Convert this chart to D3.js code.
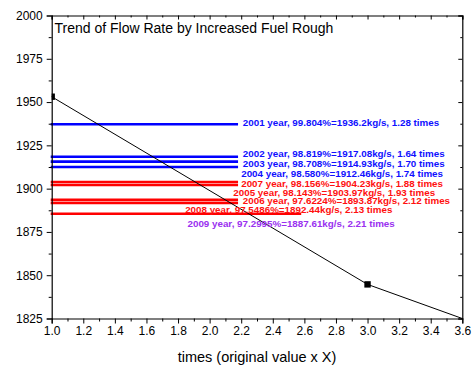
<!DOCTYPE html>
<html><head><meta charset="utf-8">
<script src="https://cdn.jsdelivr.net/npm/d3@7"></script>
<style>
html,body{margin:0;padding:0;background:#fff;}
svg{display:block;font-family:Arial,"Liberation Sans",sans-serif;}
</style></head>
<body><svg id="chart" width="474" height="365"></svg>
<script>
// ---- data ----
const trendX = [1.0, 3.0, 3.6];
const trendY = [1953.1, 1844.7, 1825.0];

const years = ["2001","2002","2003","2004","2007","2005","2006","2008","2009"];
const levels = [1937.2, 1918.4, 1915.6, 1912.5, 1903.8, 1902.1, 1893.5, 1891.7, 1885.5];
const lineColors = ["#0000ff","#0000ff","#0000ff","#0000ff","#ff0000","#ff0000","#ff0000","#ff0000","#ff0000"];
const lineEnds = [2.18, 2.18, 2.18, 2.18, 2.18, 2.18, 2.18, 2.18, 2.58];

const labels = [
  "2001 year, 99.804%=1936.2kg/s, 1.28 times",
  "2002 year, 98.819%=1917.08kg/s, 1.64 times",
  "2003 year, 98.708%=1914.93kg/s, 1.70 times",
  "2004 year, 98.580%=1912.46kg/s, 1.74 times",
  "2007 year, 98.156%=1904.23kg/s, 1.88 times",
  "2005 year, 98.143%=1903.97kg/s, 1.93 times",
  "2006 year, 97.6224%=1893.87kg/s, 2.12 times",
  "2008 year, 97.5486%=1892.44kg/s, 2.13 times",
  "2009 year, 97.2995%=1887.61kg/s, 2.21 times"
];
const labelColors = ["#1010ff","#1010ff","#1010ff","#1010ff","#ff1010","#ff1010","#ff1010","#ff1010","#9a30f0"];
// label anchor (in data units)
const labelAtX = [2.21, 2.21, 2.21, 2.20, 2.20, 2.15, 2.21, 1.845, 1.86];
const labelAtY = [1938.1, 1920.4, 1914.6, 1908.5, 1903.1, 1897.7, 1893.0, 1888.1, 1880.0];

const xTicks = [1.0,1.2,1.4,1.6,1.8,2.0,2.2,2.4,2.6,2.8,3.0,3.2,3.4,3.6];
const yTicks = [1825,1850,1875,1900,1925,1950,1975,2000];
const titleText = "Trend of Flow Rate by Increased Fuel Rough";
const xTitle = "times (original value x X)";

// ---- layout ----
const L = 51.7, R = 462.3, T = 15.5, B = 318.5;
const svg = d3.select("#chart");
const x = d3.scaleLinear().domain([1.0, 3.6]).range([L, R]);
const y = d3.scaleLinear().domain([1825, 2000]).range([B, T]);

const minorX = d3.range(10, 37).map(d => d / 10).filter(d => !xTicks.some(t => Math.abs(t - d) < 1e-6));
const minorY = d3.range(1825, 2001, 12.5).filter(d => !yTicks.includes(d));

// clip
svg.append("clipPath").attr("id","clip").append("rect")
  .attr("x", L).attr("y", T).attr("width", R - L).attr("height", B - T);

// horizontal level lines
const g = svg.append("g");
years.forEach((yr, i) => {
  g.append("line")
    .attr("x1", x(1.0) - 1).attr("x2", x(lineEnds[i]))
    .attr("y1", y(levels[i])).attr("y2", y(levels[i]))
    .attr("stroke", lineColors[i]).attr("stroke-width", 2.6);
});

// trend line
const pts = trendX.map((d, i) => [d, trendY[i]]);
svg.append("path").datum(pts)
  .attr("fill","none").attr("stroke","#000").attr("stroke-width",1)
  .attr("d", d3.line().x(d => x(d[0])).y(d => y(d[1])));
svg.append("g").attr("clip-path","url(#clip)")
  .selectAll("rect").data(pts.slice(0, 2)).join("rect")
  .attr("x", d => x(d[0]) - 3.2).attr("y", d => y(d[1]) - 3.2)
  .attr("width", 6.4).attr("height", 6.4).attr("fill","#000");

// labels
labels.forEach((t, i) => {
  svg.append("text")
    .attr("x", x(labelAtX[i])).attr("y", y(labelAtY[i]))
    .attr("dy","0.35em")
    .attr("font-size", 9.8).attr("font-weight","bold")
    .attr("fill", labelColors[i]).text(t);
});

// axes
const axB = svg.append("g").attr("transform",`translate(0,${B})`)
  .call(d3.axisBottom(x).tickValues(xTicks).tickFormat(d3.format(".1f")).tickSize(5).tickPadding(3));
axB.append("g").call(d3.axisBottom(x).tickValues(minorX).tickFormat("").tickSize(3)).select(".domain").remove();
const axL = svg.append("g").attr("transform",`translate(${L},0)`)
  .call(d3.axisLeft(y).tickValues(yTicks).tickFormat(d3.format("d")).tickSize(5).tickPadding(4));
axL.append("g").call(d3.axisLeft(y).tickValues(minorY).tickFormat("").tickSize(3)).select(".domain").remove();
const axT = svg.append("g").attr("transform",`translate(0,${T})`)
  .call(d3.axisBottom(x).tickValues(xTicks).tickFormat("").tickSize(4));
axT.append("g").call(d3.axisBottom(x).tickValues(minorX).tickFormat("").tickSize(2)).select(".domain").remove();
const axR = svg.append("g").attr("transform",`translate(${R},0)`)
  .call(d3.axisLeft(y).tickValues(yTicks).tickFormat("").tickSize(4));
axR.append("g").call(d3.axisLeft(y).tickValues(minorY).tickFormat("").tickSize(2)).select(".domain").remove();

svg.selectAll(".domain").attr("stroke","#000").attr("stroke-width",1.2);
svg.selectAll(".tick line").attr("stroke","#000").attr("stroke-width",1);
svg.selectAll(".tick text").attr("font-size",12).attr("fill","#000")
  .attr("font-family","Arial,'Liberation Sans',sans-serif");

// title
svg.append("text").attr("x", 54.5).attr("y", 33).attr("font-size", 14).attr("fill","#000").text(titleText);
svg.append("text").attr("x", (L + R) / 2 + 0).attr("y", 362).attr("text-anchor","middle")
  .attr("font-size", 14.5).attr("fill","#000").text(xTitle);
</script></body></html>
